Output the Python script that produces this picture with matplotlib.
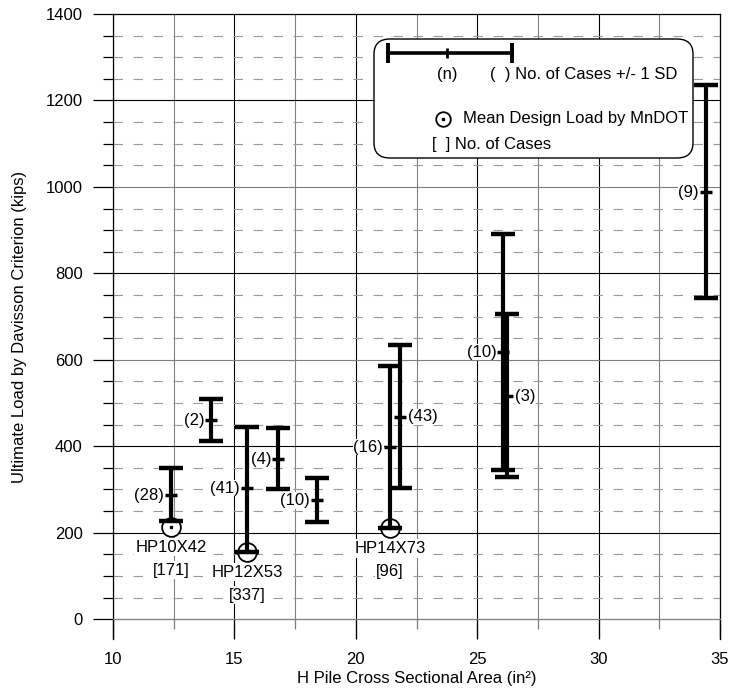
import matplotlib
matplotlib.use('Agg')
import matplotlib.pyplot as plt
from matplotlib.lines import Line2D
from matplotlib.patches import FancyBboxPatch
import numpy as np

plt.rcParams['font.family'] = ['Liberation Sans', 'DejaVu Sans']
plt.rcParams['font.size'] = 12

# ---------------- data ----------------
area = [12.39, 14.04, 15.52, 16.80, 18.40, 21.41, 21.82, 26.08, 26.24, 34.42]
mean_load = [287, 460, 303, 370, 275, 398, 468, 618, 516, 988]
upper_load = [349, 509, 444, 442, 326, 586, 634, 891, 706, 1236]
lower_load = [227, 412, 155, 301, 224, 210, 303, 345, 329, 743]
n_cases = [28, 2, 41, 4, 10, 16, 43, 10, 3, 9]
label_side = ['left', 'left', 'left', 'left', 'left', 'left', 'right', 'left', 'right', 'left']

pile_names = ['HP10X42', 'HP12X53', 'HP14X73']
pile_area = [12.39, 15.52, 21.41]
design_load = [213, 155, 210]
pile_cases = [171, 337, 96]

x_major = [10, 15, 20, 25, 30, 35]
y_major = [0, 200, 400, 600, 800, 1000, 1200, 1400]

# ---------------- figure ----------------
W, H = 730, 689
fig = plt.figure(figsize=(W / 100, H / 100), dpi=100)
ax = fig.add_axes([113 / W, 1 - 639 / H, (720 - 113) / W, (639 - 14) / H])
ax.set_xlim(10, 35)
ax.set_ylim(-46, 1400)

ax.set_xticks(x_major)
ax.set_xticks(np.arange(12.5, 35, 5), minor=True)
ax.set_yticks(y_major)
y_minor = [v for v in np.arange(0, 1401, 50) if v % 200 != 0]
ax.set_yticks(y_minor, minor=True)

for s in ['left', 'right', 'top']:
    ax.spines[s].set_color('black')
    ax.spines[s].set_linewidth(0.9)
ax.spines['bottom'].set_position(('data', 0))
ax.spines['bottom'].set_color('#7f7f7f')
ax.spines['bottom'].set_linewidth(0.9)

ax.tick_params(axis='x', which='major', direction='out', length=14.4, width=0.9,
               color='black', pad=9.5, labelsize=12)
ax.tick_params(axis='x', which='minor', direction='out', length=7.2, width=0.9,
               color='#7f7f7f')
ax.tick_params(axis='y', which='major', direction='out', length=14.4, width=0.9,
               color='black', pad=7.5, labelsize=12)
ax.tick_params(axis='y', which='minor', direction='out', length=7.2, width=0.9,
               color='black')

# vertical grid lines
for xv in ax.get_xticks():
    ax.axvline(xv, color='black', lw=0.8, zorder=0.5)
for xv in ax.get_xticks(minor=True):
    ax.vlines(xv, 0, 1400, color='#808080', lw=0.8, zorder=0.5)
# horizontal grid lines
major_colors = {200: 'black', 400: 'black', 600: '#7f7f7f', 800: 'black',
                1000: '#7f7f7f', 1200: 'black'}
for yv in ax.get_yticks():
    if 0 < yv < 1400:
        ax.axhline(yv, color=major_colors.get(int(yv), 'black'), lw=0.8, zorder=0.5)
for yv in ax.get_yticks(minor=True):
    ax.axhline(yv, color='#9a9a9a', lw=0.8, dashes=(8.5, 9.5), zorder=0.5)

# design load circles (white filled)
ax.plot(pile_area, design_load, ls='none', marker='o', ms=13.5, mfc='white',
        mec='black', mew=1.3, zorder=3)

# error bars
for x, m, lo, hi in zip(area, mean_load, lower_load, upper_load):
    ax.errorbar(x, m, yerr=[[m - lo], [hi - m]], fmt='none', ecolor='black',
                elinewidth=3, capsize=8.6, capthick=3.2, zorder=4)
ax.plot(area, mean_load, ls='none', marker='_', ms=8, mew=2.5, color='black', zorder=5)

# center dots of circles
ax.plot(pile_area, design_load, ls='none', marker='s', ms=2, color='black', zorder=6)

# case count labels
for x, m, n, side in zip(area, mean_load, n_cases, label_side):
    dx = -5 if side == 'left' else 5.5
    ax.annotate(f'({n})', xy=(x, m), xytext=(dx, 0), textcoords='offset points',
                ha='right' if side == 'left' else 'left', va='center', fontsize=12,
                bbox=dict(boxstyle='square,pad=0.05', fc='white', ec='none'), zorder=3.5)

# pile labels
for x, yv, name, c in zip(pile_area, design_load, pile_names, pile_cases):
    ax.annotate(name, xy=(x, yv), xytext=(0, -14.5), textcoords='offset points',
                ha='center', va='center', fontsize=12,
                bbox=dict(boxstyle='square,pad=0.1', fc='white', ec='none'), zorder=3.5)
    ax.annotate(f'[{c}]', xy=(x, yv), xytext=(0, -31), textcoords='offset points',
                ha='center', va='center', fontsize=12,
                bbox=dict(boxstyle='square,pad=0.1', fc='white', ec='none'), zorder=3.5)

ax.set_xlabel('H Pile Cross Sectional Area (in²)', fontsize=12, labelpad=3)
ax.set_ylabel('Ultimate Load by Davisson Criterion (kips)', fontsize=12, labelpad=13)


# ---------------- legend box ----------------
def P(x, y):
    return x / W, 1 - y / H


bx0, by0 = P(374, 158)
bx1, by1 = P(693, 39)
box = FancyBboxPatch((bx0, by0), bx1 - bx0, by1 - by0,
                     boxstyle='round,pad=0,rounding_size=0.022',
                     transform=fig.transFigure, fc='white', ec='black', lw=1.0, zorder=5)
fig.add_artist(box)


def fline(xs, ys, **kw):
    pts = [P(a, b) for a, b in zip(xs, ys)]
    ln = Line2D([p[0] for p in pts], [p[1] for p in pts], transform=fig.transFigure,
                zorder=6, **kw)
    fig.add_artist(ln)


fline([388, 512], [53, 53], color='black', lw=2.6)
fline([388, 388], [43, 63], color='black', lw=2.8, solid_capstyle='butt')
fline([512, 512], [43, 63], color='black', lw=2.8, solid_capstyle='butt')
fline([447, 447], [48, 58], color='black', lw=2.0, solid_capstyle='butt')

fline([443], [119], ls='none', marker='o', ms=10.5, mfc='white', mec='black', mew=1.3)
fline([443], [119], ls='none', marker='s', ms=2, color='black')

tx, ty = P(447, 75)
fig.text(tx, ty, '(n)', ha='center', va='center', fontsize=12, zorder=6)
tx, ty = P(490, 75)
fig.text(tx, ty, '(  ) No. of Cases +/- 1 SD', ha='left', va='center', fontsize=12, zorder=6)
tx, ty = P(463, 119)
fig.text(tx, ty, 'Mean Design Load by MnDOT', ha='left', va='center', fontsize=12, zorder=6)
tx, ty = P(432, 144)
fig.text(tx, ty, '[  ] No. of Cases', ha='left', va='center', fontsize=12, zorder=6)

fig.savefig('out.png', dpi=100)
